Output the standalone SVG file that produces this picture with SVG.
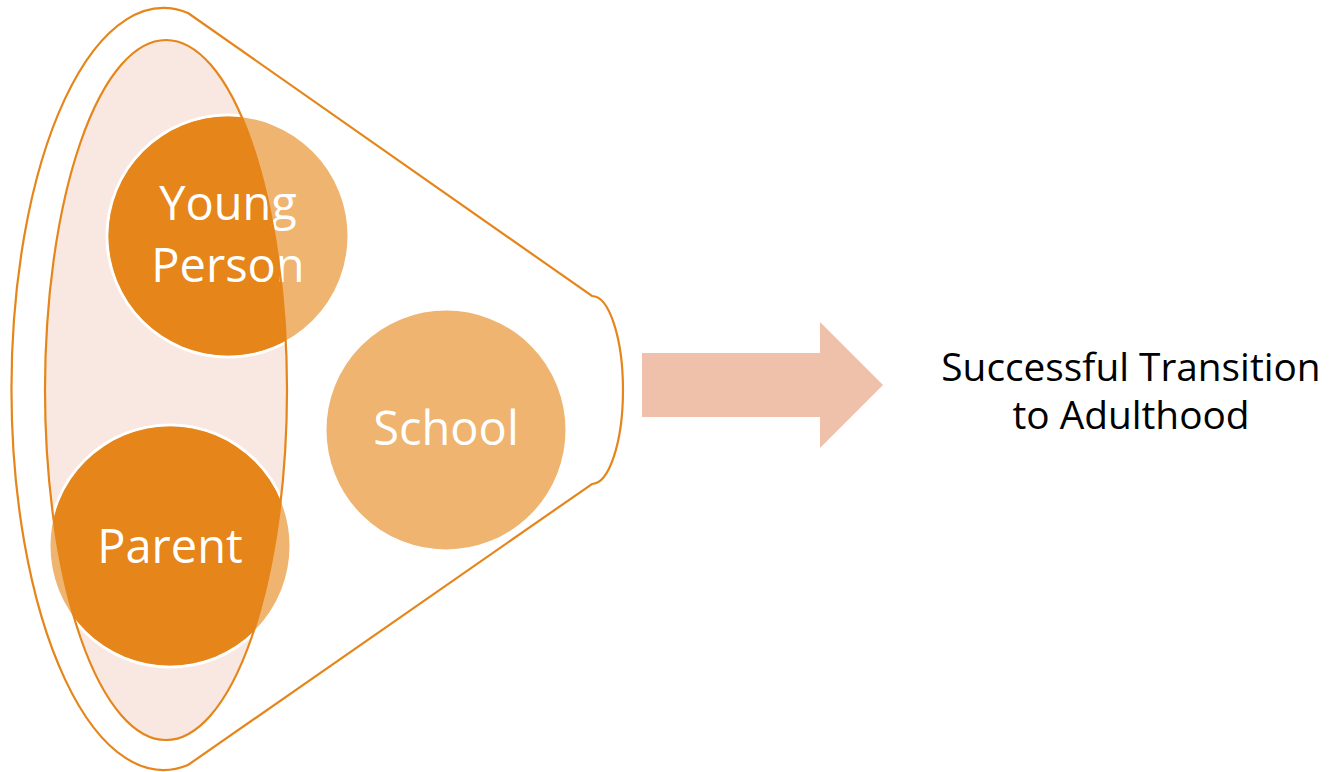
<svg xmlns="http://www.w3.org/2000/svg" width="1332" height="772" viewBox="0 0 1332 772">
<style>
.outline{fill:none;stroke:#E5851A;stroke-width:2.2}
.circ{fill:#EFB46F;stroke:#FFFFFF;stroke-width:3}
.dark{fill:#E5851A}
.lbl{font-family:"Open Sans","Noto Sans",sans-serif;font-size:47px;fill:#FFFFFF;text-anchor:middle}
.out{font-family:"Open Sans","Noto Sans",sans-serif;font-size:38.8px;fill:#000000;text-anchor:middle}
</style>
<defs>
<clipPath id="ellClip"><ellipse cx="166" cy="390" rx="121" ry="350"/></clipPath>
</defs>
<rect width="1332" height="772" fill="#FFFFFF"/>
<g id="funnel">
<path class="outline" d="M188,13 L592,296 A31,94 0 0 1 592,484 L188,765 A152,381 0 1 1 188,13 Z"/>
</g>
<g id="family-ellipse-fill">
<ellipse cx="166" cy="390" rx="121" ry="350" fill="#F9E8E1"/>
</g>
<g id="young-person">
<circle class="circ" cx="228" cy="236" r="121"/>
<circle class="dark" cx="228" cy="236" r="119.5" clip-path="url(#ellClip)"/>
<text class="lbl" x="228" y="220">Young</text>
<text class="lbl" x="228" y="282">Person</text>
</g>
<g id="parent">
<circle class="circ" cx="170" cy="546" r="121"/>
<circle class="dark" cx="170" cy="546" r="119.5" clip-path="url(#ellClip)"/>
<text class="lbl" x="170" y="563">Parent</text>
</g>
<g id="school">
<circle class="circ" cx="446" cy="430" r="121"/>
<text class="lbl" x="446" y="445">School</text>
</g>
<g id="family-ellipse-outline">
<ellipse class="outline" cx="166" cy="390" rx="121" ry="350"/>
</g>
<g id="connectors">
<path d="M642,353 L820,353 L820,322 L883,385 L820,448 L820,417 L642,417 Z" fill="#EFC0AA"/>
</g>
<g id="outcome">
<text class="out" x="1131" y="381">Successful Transition</text>
<text class="out" x="1131" y="429">to Adulthood</text>
</g>
</svg>
